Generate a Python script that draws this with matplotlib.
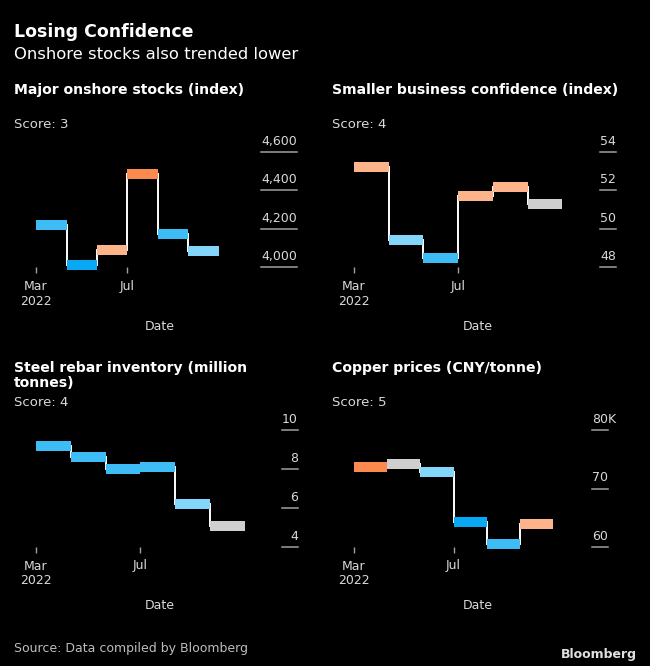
import matplotlib
matplotlib.use('Agg')
import matplotlib.pyplot as plt

# monthly readings (six steps per panel)
stocks = [4222, 4012, 4090, 4483, 4171, 4085]
confidence = [53.2, 49.4, 48.5, 51.7, 52.2, 51.3]
rebar = [9.2, 8.6, 8.0, 8.1, 6.2, 5.1]
copper = [73700, 74200, 72800, 64300, 60500, 63900]

ORANGE = '#fb8a4e'
LORANGE = '#fdb48a'
BLUE = '#3dbcf5'
DBLUE = '#08a8f4'
LBLUE = '#84d5fa'
GRAY = '#cfcfcf'

stocks_colors = [BLUE, DBLUE, LORANGE, ORANGE, BLUE, LBLUE]
confidence_colors = [LORANGE, LBLUE, BLUE, LORANGE, LORANGE, GRAY]
rebar_colors = [BLUE, BLUE, BLUE, BLUE, LBLUE, GRAY]
copper_colors = [ORANGE, GRAY, LBLUE, DBLUE, BLUE, LORANGE]

xtick_pos = [0, 3]
xtick_labels = ['Mar\n2022', 'Jul']

W, H = 650, 666
TXT = '#d9d9d9'
GRID = '#a0a0a0'

fig = plt.figure(figsize=(6.5, 6.66), dpi=100, facecolor='black')


def fx(px):
    return px / W


def fy(py):
    return 1 - py / H


def panel(vals, colors, x0, segw, gx0, gx1, yticks, ylabels, ybot, ytop, align, date_x, date_y):
    ax = fig.add_axes([fx(x0), fy(ybot), fx(gx1 - x0), (ybot - ytop) / H])
    ax.set_facecolor('black')
    ax.set_xlim(0, (gx1 - x0) / segw)
    ax.set_ylim(yticks[0], yticks[-1])
    for s in ax.spines.values():
        s.set_visible(False)

    # white risers between the monthly steps
    for i in range(len(vals) - 1):
        ax.plot([i + 1, i + 1], [vals[i], vals[i + 1]], color='white', lw=1.4, zorder=2, clip_on=False)
    for i, (v, c) in enumerate(zip(vals, colors)):
        ax.plot([i, i + 1], [v, v], color=c, lw=7.2, solid_capstyle='butt', zorder=3, clip_on=False)

    trans = ax.get_yaxis_transform()
    f0 = (gx0 - x0) / (gx1 - x0)
    for t, lab in zip(yticks, ylabels):
        ax.plot([f0, 1], [t, t], transform=trans, color=GRID, lw=1.1, clip_on=False)
        if align == 'right':
            ax.annotate(lab, xy=(1, t), xycoords=trans, xytext=(0, 3), textcoords='offset points',
                        ha='right', va='bottom', color=TXT, fontsize=9)
        else:
            ax.annotate(lab, xy=(f0, t), xycoords=trans, xytext=(0, 3), textcoords='offset points',
                        ha='left', va='bottom', color=TXT, fontsize=9)

    ax.set_yticks([])
    ax.set_xticks(xtick_pos)
    ax.set_xticklabels(xtick_labels, fontsize=9, color=TXT)
    ax.tick_params(axis='x', colors=GRID, labelcolor=TXT, length=4, width=1, pad=5)
    fig.text(fx(date_x), fy(date_y), 'Date', ha='center', va='baseline', color=TXT, fontsize=9)
    return ax


panel(stocks, stocks_colors, 36, 30.5, 261, 297, [4000, 4200, 4400, 4600],
      ['4,000', '4,200', '4,400', '4,600'], 267.3, 152, 'right', 160, 330)
panel(confidence, confidence_colors, 354, 34.7, 600, 616, [48, 50, 52, 54],
      ['48', '50', '52', '54'], 267.3, 152, 'right', 478, 330)
panel(rebar, rebar_colors, 36, 34.8, 282, 298, [4, 6, 8, 10],
      ['4', '6', '8', '10'], 547, 430, 'right', 160, 609)
panel(copper, copper_colors, 354, 33.2, 592, 608, [60000, 70000, 80000],
      ['60', '70', '80K'], 547, 430, 'left', 478, 609)

# headline text
fig.text(fx(14), fy(37), 'Losing Confidence', color='white', fontsize=12.5, fontweight='bold', va='baseline')
fig.text(fx(14), fy(59), 'Onshore stocks also trended lower', color='white', fontsize=11.8, va='baseline')

fig.text(fx(14), fy(94), 'Major onshore stocks (index)', color='white', fontsize=10.1, fontweight='bold', va='baseline')
fig.text(fx(14), fy(128), 'Score: 3', color=TXT, fontsize=9.5, va='baseline')
fig.text(fx(332), fy(94), 'Smaller business confidence (index)', color='white', fontsize=10.1, fontweight='bold', va='baseline')
fig.text(fx(332), fy(128), 'Score: 4', color=TXT, fontsize=9.5, va='baseline')
fig.text(fx(14), fy(372), 'Steel rebar inventory (million', color='white', fontsize=10.1, fontweight='bold', va='baseline')
fig.text(fx(14), fy(387), 'tonnes)', color='white', fontsize=10.1, fontweight='bold', va='baseline')
fig.text(fx(14), fy(406), 'Score: 4', color=TXT, fontsize=9.5, va='baseline')
fig.text(fx(332), fy(372), 'Copper prices (CNY/tonne)', color='white', fontsize=10.1, fontweight='bold', va='baseline')
fig.text(fx(332), fy(406), 'Score: 5', color=TXT, fontsize=9.5, va='baseline')

fig.text(fx(14), fy(652), 'Source: Data compiled by Bloomberg', color='#bdbdbd', fontsize=9, va='baseline')
fig.text(fx(637), fy(658), 'Bloomberg', color='#e0e0e0', fontsize=9, fontweight='bold', ha='right', va='baseline')

fig.savefig('out.png', dpi=100, facecolor='black')
